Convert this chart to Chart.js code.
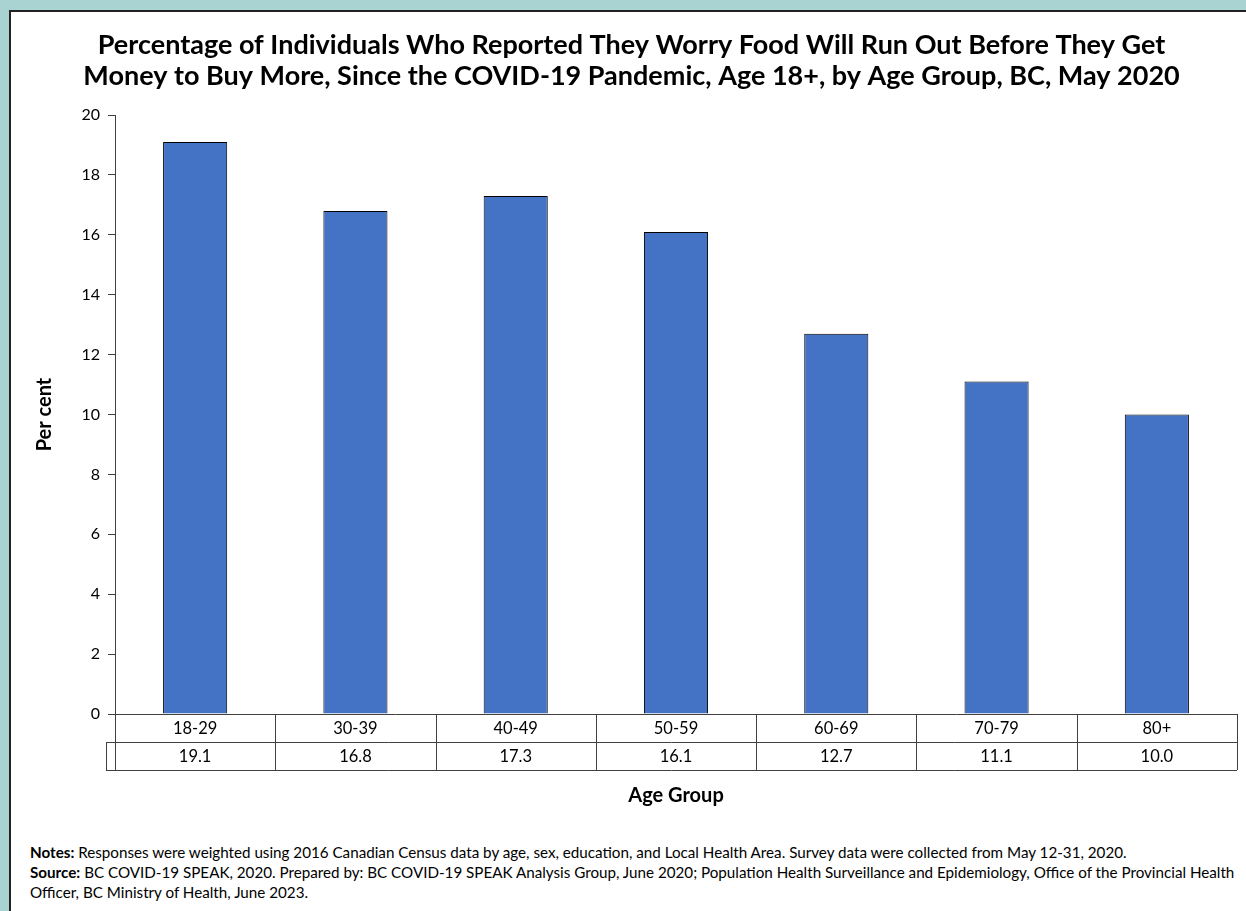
<!DOCTYPE html>
<html>
<head>
<meta charset="utf-8">
<script src="https://cdn.jsdelivr.net/npm/chart.js@4"></script>
<style>
    html, body { margin: 0; padding: 0; }
    body { width: 1246px; height: 911px; background: #a9d3d3; position: relative; overflow: hidden; font-family: Lato, sans-serif; }
    .panel { position: absolute; left: 9px; top: 10px; width: 1240px; height: 910px; background: #fff; border-left: 2px solid #222; border-top: 2px solid #222; }
    .chart-wrap { position: absolute; left: 0; top: 0; width: 1246px; height: 830px; }
    .notes { position: absolute; left: 30px; top: 842px; font-size: 15.2px; line-height: 20px; color: #000; width: 1210px; }
</style>
</head>
<body>
<div class="panel"></div>
<div class="chart-wrap"><canvas id="foodWorryChart"></canvas></div>
<div class="notes">
    <div><b>Notes:</b> Responses were weighted using 2016 Canadian Census data by age, sex, education, and Local Health Area. Survey data were collected from May 12-31, 2020.</div>
    <div><b>Source:</b> BC COVID-19 SPEAK, 2020. Prepared by: BC COVID-19 SPEAK Analysis Group, June 2020; Population Health Surveillance and Epidemiology, Office of the Provincial Health Officer, BC Ministry of Health, June 2023.</div>
</div>
<script>
const ageGroups = ['18-29', '30-39', '40-49', '50-59', '60-69', '70-79', '80+'];
const worryPct = [19.1, 16.8, 17.3, 16.1, 12.7, 11.1, 10.0];
const titleLines = [
    'Percentage of Individuals Who Reported They Worry Food Will Run Out Before They Get',
    'Money to Buy More, Since the COVID-19 Pandemic, Age 18+, by Age Group, BC, May 2020'
];

// Data table under the x axis (category row + value row)
const dataTablePlugin = {
    id: 'dataTable',
    afterDraw(chart) {
        const { ctx, chartArea, scales } = chart;
        const x = scales.x;
        const catW = (chartArea.right - chartArea.left) / ageGroups.length;
        const rowH = 28;
        const top = chartArea.bottom;
        ctx.save();
        ctx.strokeStyle = '#404040';
        ctx.lineWidth = 1;
        ctx.beginPath();
        // horizontal lines
        ctx.moveTo(chartArea.left, top + 0.5);
        ctx.lineTo(chartArea.right, top + 0.5);
        ctx.moveTo(chartArea.left - 9, top + rowH + 0.5);
        ctx.lineTo(chartArea.right, top + rowH + 0.5);
        ctx.moveTo(chartArea.left - 9, top + 2 * rowH + 0.5);
        ctx.lineTo(chartArea.right, top + 2 * rowH + 0.5);
        // vertical lines
        for (let i = 0; i <= ageGroups.length; i++) {
            const px = Math.round(chartArea.left + i * catW) + 0.5;
            ctx.moveTo(px, top);
            ctx.lineTo(px, top + 2 * rowH);
        }
        ctx.moveTo(chartArea.left - 9 + 0.5, top + rowH);
        ctx.lineTo(chartArea.left - 9 + 0.5, top + 2 * rowH);
        ctx.stroke();

        ctx.fillStyle = '#000';
        ctx.font = '16.5px Lato, sans-serif';
        ctx.textAlign = 'center';
        ctx.textBaseline = 'middle';
        ageGroups.forEach((g, i) => {
            const cx = x.getPixelForValue(i);
            ctx.fillText(g, cx, top + rowH / 2 + 1);
            ctx.fillText(worryPct[i].toFixed(1), cx, top + rowH * 1.5 + 1);
        });
        ctx.restore();
    }
};

const ctx = document.getElementById('foodWorryChart').getContext('2d');
new Chart(ctx, {
    type: 'bar',
    data: {
        labels: ageGroups,
        datasets: [{
            label: 'Per cent',
            data: worryPct,
            backgroundColor: '#4472c4',
            borderColor: '#000',
            borderWidth: 1,
            barPercentage: 0.4,
            categoryPercentage: 1
        }]
    },
    options: {
        responsive: true,
        maintainAspectRatio: false,
        animation: false,
        layout: { padding: { left: 26, right: 9, top: 0, bottom: 22 } },
        scales: {
            x: {
                ticks: { display: false },
                grid: { display: false, drawTicks: false },
                border: { display: false },
                title: {
                    display: true,
                    text: 'Age Group',
                    color: '#000',
                    font: { family: 'Lato, sans-serif', size: 20, weight: 'bold' },
                    padding: { top: 70, bottom: 0 }
                }
            },
            y: {
                min: 0,
                max: 20,
                afterFit(scale) { scale.width = 89; },
                ticks: {
                    stepSize: 2,
                    color: '#000',
                    padding: 8,
                    font: { family: 'Lato, sans-serif', size: 16 }
                },
                grid: { drawOnChartArea: false, drawTicks: true, tickLength: 7, color: '#404040' },
                border: { color: '#404040', width: 1 },
                title: {
                    display: true,
                    text: 'Per cent',
                    color: '#000',
                    font: { family: 'Lato, sans-serif', size: 20, weight: 'bold' },
                    padding: { top: 7, bottom: 0 }
                }
            }
        },
        plugins: {
            legend: { display: false },
            tooltip: { enabled: false },
            title: {
                display: true,
                text: titleLines,
                color: '#000',
                font: { family: 'Lato, sans-serif', size: 27, weight: 'bold', lineHeight: 1.15 },
                padding: { top: 30, bottom: 23 }
            }
        }
    },
    plugins: [dataTablePlugin]
});
</script>
</body>
</html>
